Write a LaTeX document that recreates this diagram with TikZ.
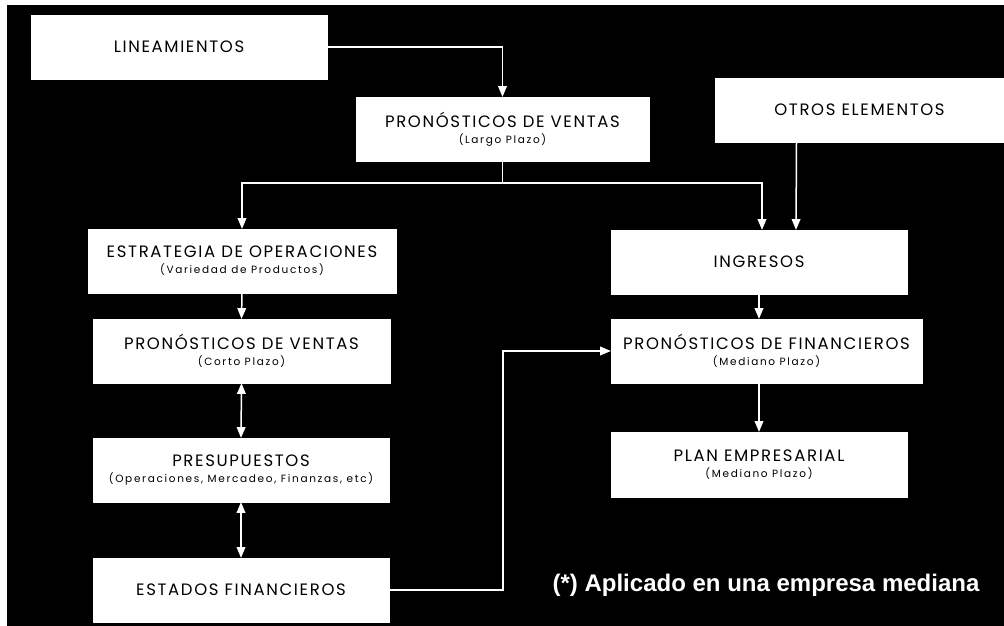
\documentclass[tikz,border=0pt]{standalone}
\usepackage{fontspec}
\usetikzlibrary{arrows,positioning}
\newfontfamily\titfont{Poppins}[LetterSpace=10]
\newfontfamily\subfont{Poppins}[LetterSpace=16]
\newfontfamily\notafont{Liberation Sans}
\newcommand{\subtit}[1]{{\subfont\fontsize{10.5}{12}\selectfont #1}}

\begin{document}
\begin{tikzpicture}
	 [scale =1]
	\tikzstyle{caja}=[rectangle,fill=white,draw=white,minimum height=64pt,inner sep=0pt,align=center,font=\titfont\fontsize{16.5}{18}\selectfont]
	\tikzstyle{flecha}=[draw=white,line width=1.5pt,-triangle 45]
	\tikzstyle{doble}=[draw=white,line width=1.5pt,triangle 45-triangle 45]
	\tikzstyle{nota}=[text=white,font=\notafont\bfseries\fontsize{24}{26}\selectfont]
	\useasboundingbox (0 pt,0 pt) rectangle (1004 pt,-626 pt);
	\fill[black] (7 pt,-5 pt) rectangle (1004 pt,-626 pt);
	\node [caja,minimum width=296pt] (lin)   at (179.0 pt,-47.0 pt) {LINEAMIENTOS};
	\node [caja,minimum width=293pt] (pvl)   at (502.5 pt,-129.0 pt) {PRONÓSTICOS DE VENTAS\\[-2pt]\subtit{(Largo Plazo)}};
	\node [caja,minimum width=289pt] (otros) at (859.5 pt,-110.0 pt) {OTROS ELEMENTOS};
	\node [caja,minimum width=308pt] (estr)  at (242.0 pt,-261.0 pt) {ESTRATEGIA DE OPERACIONES\\[-2pt]\subtit{(Variedad de Productos)}};
	\node [caja,minimum width=297pt] (pvc)   at (241.5 pt,-351.0 pt) {PRONÓSTICOS DE VENTAS\\[-2pt]\subtit{(Corto Plazo)}};
	\node [caja,minimum width=296pt] (pres)  at (241.0 pt,-470.0 pt) {PRESUPUESTOS\\[-2pt]\subtit{(Operaciones, Mercadeo, Finanzas, etc)}};
	\node [caja,minimum width=296pt] (edo)   at (241.0 pt,-590.0 pt) {ESTADOS FINANCIEROS};
	\node [caja,minimum width=296pt] (ing)   at (759.0 pt,-262.0 pt) {INGRESOS};
	\node [caja,minimum width=311pt] (pfin)  at (766.5 pt,-351.0 pt) {PRONÓSTICOS DE FINANCIEROS\\[-2pt]\subtit{(Mediano Plazo)}};
	\node [caja,minimum width=296pt,minimum height=65pt] (plan) at (759.0 pt,-464.5 pt) {PLAN EMPRESARIAL\\[-2pt]\subtit{(Mediano Plazo)}};
	\node [nota] (nota) at (766.0 pt,-585.0 pt) {(*) Aplicado en una empresa mediana};
	\draw[flecha] (lin.east) -| (pvl.north);
	\draw[flecha] (pvl.south) -- ++(0 pt,-22 pt) -| (estr.north);
	\draw[flecha] (pvl.south) -- ++(0 pt,-22 pt) -| ([xshift=3pt]ing.north);
	\draw[flecha] ([xshift=-63pt]otros.south) -- ([xshift=37pt]ing.north);
	\draw[flecha] (estr.south) -- (pvc.north);
	\draw[doble] (pvc.south) -- (pres.north);
	\draw[doble] (pres.south) -- (edo.north);
	\draw[flecha] (edo.east) -- ++(114 pt,0 pt) |- (pfin.west);
	\draw[flecha] (ing.south) -- (ing.south |- pfin.north);
	\draw[flecha] (pfin.south -| plan.north) -- (plan.north);
	\end{tikzpicture}
\end{document}
